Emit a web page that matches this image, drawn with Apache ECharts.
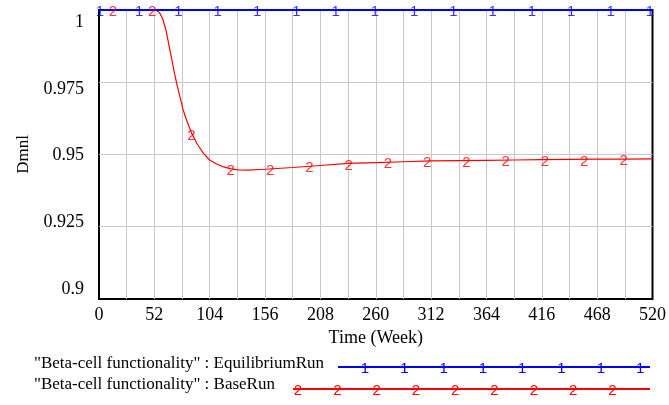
<!DOCTYPE html>
<html>
<head>
<meta charset="utf-8">
<script src="https://cdn.jsdelivr.net/npm/echarts@6/dist/echarts.min.js"></script>
<style>
  html, body { margin: 0; padding: 0; background: #fff; }
  #main { width: 669px; height: 405px; }
</style>
</head>
<body>
<div id="main"></div>
<script>
// BaseRun curve
var baseWeeks = [0, 13, 26, 39, 52, 54, 57, 60, 63, 66.6, 70, 73, 76, 79, 82, 87, 92, 98, 104, 110,
  117, 124, 131, 140, 156, 182, 208, 234, 260, 286, 312, 338, 364, 390, 416, 442, 468, 494, 520];
var baseValues = [1, 1, 1, 1, 1, 0.99985, 0.9990, 0.9968, 0.9929, 0.9862, 0.9798, 0.9745, 0.9700, 0.9655,
  0.9622, 0.9574, 0.9538, 0.9505, 0.9481, 0.9468, 0.9457, 0.9450, 0.9447, 0.9446, 0.9449, 0.9455,
  0.9462, 0.9469, 0.9472, 0.9475, 0.9478, 0.9479, 0.9480, 0.9481, 0.9482, 0.9483, 0.9484, 0.9484, 0.9485];

// EquilibriumRun stays at 1
var eqWeeks = [0, 520];
var eqValues = [1, 1];

// where the "1" / "2" marks sit on the lines
var eqMarkWeeks = [0.9, 37.8, 74.7, 111.6, 148.5, 185.4, 222.3, 259.2, 296.1, 333, 369.9, 406.8, 443.7, 480.6, 517.5];
var baseMarkWeeks = [13.1, 50, 86.9, 123.8, 160.7, 197.6, 234.5, 271.4, 308.3, 345.2, 382.1, 419, 455.9, 492.8];
var baseMarkValues = [1, 1, 0.9571, 0.9450, 0.9450, 0.9459, 0.9469, 0.9473, 0.9477, 0.9479, 0.9481, 0.9482, 0.9483, 0.9484];

var yTicks = [0.9, 0.925, 0.95, 0.975, 1];

var seriesNames = ['"Beta-cell functionality" : EquilibriumRun', '"Beta-cell functionality" : BaseRun'];

var serif = '"Liberation Serif", "Times New Roman", serif';
var sans = '"Liberation Sans", Arial, sans-serif';
var blue = '#0000ff';
var red = '#ff0000';

function zip(a, b) {
  return a.map(function (v, i) { return [v, b[i]]; });
}

function markSeries(weeks, values, glyph, color) {
  return {
    type: 'scatter',
    data: zip(weeks, values),
    symbol: 'circle',
    symbolSize: 1,
    itemStyle: { color: 'rgba(0,0,0,0)' },
    label: {
      show: true, position: 'inside', formatter: glyph, offset: [0, 2],
      color: color, fontFamily: sans, fontSize: 15
    },
    silent: true,
    z: 5
  };
}

// legend drawn by hand: text, line, and numbered marks like the original
function legendRow(y, textY, name, lineStart, glyph, color, firstMark, count) {
  var els = [{
    type: 'text', left: 34, top: textY - 10,
    style: { text: name, fill: '#000', font: '17px ' + serif }
  }, {
    type: 'line',
    shape: { x1: lineStart, y1: y, x2: 650, y2: y },
    style: { stroke: color, lineWidth: 2 }
  }];
  for (var i = 0; i < count; i++) {
    els.push({
      type: 'text', x: firstMark + i * 39.3, y: y + 2,
      style: { text: glyph, fill: color, font: '15px ' + sans, align: 'center', verticalAlign: 'middle' }
    });
  }
  return els;
}

var gridLine = { lineStyle: { color: '#c8c8c8', width: 1 }, showMinLine: false, showMaxLine: false };

var chart = echarts.init(document.getElementById('main'));
chart.setOption({
  animation: false,
  backgroundColor: '#fff',
  grid: {
    left: 99, right: 16, top: 10, bottom: 106,
    show: true, borderColor: '#000', borderWidth: 2
  },
  xAxis: {
    type: 'value', min: 0, max: 520, interval: 26,
    name: 'Time (Week)', nameLocation: 'middle', nameGap: 30,
    nameTextStyle: { color: '#000', fontFamily: serif, fontSize: 18 },
    axisLine: { show: false }, axisTick: { show: false },
    axisLabel: {
      color: '#000', fontFamily: serif, fontSize: 18, margin: 7,
      formatter: function (v) { return v % 52 === 0 ? String(v) : ''; }
    },
    splitLine: gridLine
  },
  yAxis: [{
    type: 'value', min: 0.9, max: 1, interval: 0.025, position: 'left',
    name: 'Dmnl', nameLocation: 'middle', nameGap: 67,
    nameTextStyle: { color: '#000', fontFamily: serif, fontSize: 17 },
    axisLine: { show: false }, axisTick: { show: false },
    axisLabel: { show: false },
    splitLine: gridLine
  }, {
    // label-only axis: the original spreads its labels a bit inside the frame
    type: 'value', min: 0.896248, max: 1.00469, position: 'left',
    axisLine: { show: false }, axisTick: { show: false },
    splitLine: { show: false },
    axisLabel: {
      customValues: yTicks, margin: 15,
      color: '#000', fontFamily: serif, fontSize: 18,
      formatter: function (v) { return String(+v.toFixed(3)); }
    }
  }],
  series: [{
    name: seriesNames[1], type: 'line', data: zip(baseWeeks, baseValues),
    symbol: 'none', lineStyle: { color: red, width: 1.2 }, z: 2
  }, {
    name: seriesNames[0], type: 'line', data: zip(eqWeeks, eqValues),
    symbol: 'none', lineStyle: { color: blue, width: 2 }, z: 3
  },
    markSeries(eqMarkWeeks, eqMarkWeeks.map(function () { return 1; }), '1', blue),
    markSeries(baseMarkWeeks, baseMarkValues, '2', red)
  ],
  graphic: legendRow(367, 365, seriesNames[0], 338, '1', blue, 365, 8)
    .concat(legendRow(389, 386, seriesNames[1], 293, '2', red, 298, 9))
});
</script>
</body>
</html>
